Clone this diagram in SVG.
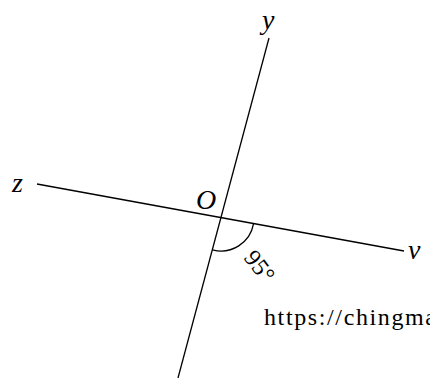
<svg xmlns="http://www.w3.org/2000/svg" width="430" height="378" viewBox="0 0 430 378">
<style>
.ln{stroke:#000;stroke-width:1.3;fill:none}
.lb{font-family:"Liberation Serif","DejaVu Serif",serif;font-style:italic;font-size:28px;fill:#000}
.rm{font-family:"Liberation Serif","DejaVu Serif",serif;font-size:24px;fill:#000}
</style>
<rect width="430" height="378" fill="#fff"/>
<g id="connectors">
<line class="ln" x1="269" y1="38" x2="178" y2="378"/>
<line class="ln" x1="37" y1="184" x2="404" y2="251"/>
<path class="ln" d="M253.5,223.9 A33,33 0 0 1 212.5,249.9"/>
</g>
<g id="node-y"><text class="lb" x="262" y="29">y</text></g>
<g id="node-z"><text class="lb" x="12" y="192">z</text></g>
<g id="node-v"><text class="lb" x="408" y="259">v</text></g>
<g id="node-O"><text class="lb" x="196" y="209">O</text></g>
<g id="angle-label"><text class="rm" font-size="26" transform="translate(243,258) rotate(52)">95°</text></g>
<g id="url"><text class="rm" x="264" y="325" textLength="172">https://chingma</text></g>
</svg>
